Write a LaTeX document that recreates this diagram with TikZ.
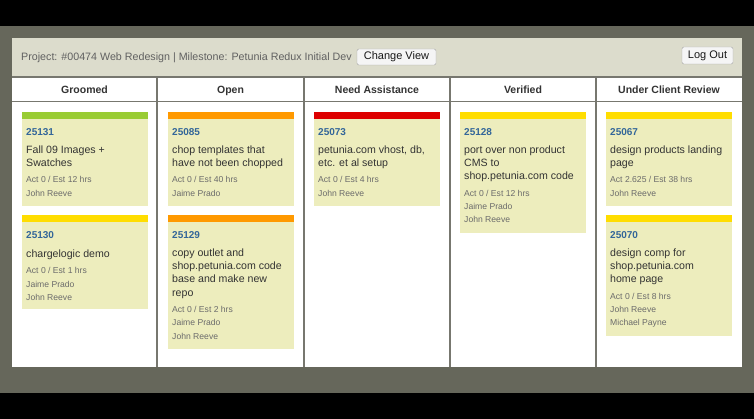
\documentclass[tikz,border=0pt]{standalone}
\usepackage{fontspec}
\setmainfont{Liberation Sans}
\usetikzlibrary{positioning}

\definecolor{pagegray}{HTML}{66675B}
\definecolor{barbg}{HTML}{DCDCCC}
\definecolor{cardbg}{HTML}{EDEDBD}
\definecolor{idblue}{HTML}{336699}
\definecolor{linegray}{HTML}{77776F}
\definecolor{tgreen}{HTML}{99CC33}
\definecolor{torange}{HTML}{FF9900}
\definecolor{tred}{HTML}{DD0000}
\definecolor{tyellow}{HTML}{FFDD00}

% name, x, top, bottom, bar colour, id, title, meta
\newcommand{\kancard}[8]{%
  \fill[cardbg] (#2,#3) rectangle (#2+126,#4);
  \fill[#5] (#2,#3) rectangle (#2+126,#3+7);
  \node[cardid] (#1id) at (#2+4,#3+23.4) {#6};
  \node[cardtitle] (#1t) at (#2+4,#3+33.2) {#7};
  \node[below=5.5pt of #1t.south west, cardmeta] (#1m) {#8};
}

\begin{document}
\begin{tikzpicture}[x=1pt,y=-1pt,
    cardid/.style={anchor=base west,inner sep=0pt,text=idblue,font=\fontsize{10}{12}\selectfont\bfseries},
    cardtitle/.style={anchor=north west,inner sep=0pt,align=left,text=black!80,
      font=\fontsize{10.6}{13.4}\selectfont,execute at begin node=\strut,execute at end node=\strut},
    cardmeta/.style={anchor=north west,inner sep=0pt,align=left,text=black!58,
      font=\fontsize{8.6}{13.4}\selectfont,execute at begin node=\strut,execute at end node=\strut},
    colhead/.style={anchor=base,font=\fontsize{10.5}{12}\selectfont\bfseries,text=black!80},
    btn/.style={draw=black!35,fill=black!4,rounded corners=1.5pt,inner sep=0pt,
      text height=7.8pt,text depth=2.2pt,font=\fontsize{11}{13}\selectfont,text=black!90}]
  \useasboundingbox (0,0) rectangle (754,419);
  \fill[black] (0,0) rectangle (754,419);
  \fill[pagegray] (0,26) rectangle (754,393);

  \fill[barbg] (12,38) rectangle (742,77);
  \fill[white] (12,77) rectangle (742,367);
  \node[anchor=base west,inner sep=0pt,text=black!62,font=\fontsize{10.7}{13}\selectfont] (project)
    at (21,60.8) {Project: \#00474 Web Redesign | Milestone: Petunia Redux Initial Dev};
  \node[btn,minimum width=79pt,minimum height=16pt] (changeview) at (396.5,57) {Change View};
  \node[btn,minimum width=51pt,minimum height=17pt] (logout) at (707.5,55.5) {Log Out};

  \draw[linegray,line width=1.5pt] (12,77) -- (742,77) (12,101.5) -- (742,101.5);
  \foreach \x in {157,304,450,596}
    \draw[linegray,line width=2pt] (\x,77) -- (\x,367);

  \node[colhead] (hgroomed) at (84.5,93.8) {Groomed};
  \node[colhead] (hopen) at (230.5,93.8) {Open};
  \node[colhead] (hneed) at (377,93.8) {Need Assistance};
  \node[colhead] (hverified) at (523,93.8) {Verified};
  \node[colhead] (hreview) at (669,93.8) {Under Client Review};

  \kancard{c25131}{22}{112}{206}{tgreen}{25131}{Fall 09 Images +\\Swatches}{Act 0 / Est 12 hrs\\John Reeve}
  \kancard{c25130}{22}{215}{309}{tyellow}{25130}{chargelogic demo}{Act 0 / Est 1 hrs\\Jaime Prado\\John Reeve}
  \kancard{c25085}{168}{112}{206}{torange}{25085}{chop templates that\\have not been chopped}{Act 0 / Est 40 hrs\\Jaime Prado}
  \kancard{c25129}{168}{215}{349}{torange}{25129}{copy outlet and\\shop.petunia.com code\\base and make new\\repo}{Act 0 / Est 2 hrs\\Jaime Prado\\John Reeve}
  \kancard{c25073}{314}{112}{206}{tred}{25073}{petunia.com vhost, db,\\etc. et al setup}{Act 0 / Est 4 hrs\\John Reeve}
  \kancard{c25128}{460}{112}{233}{tyellow}{25128}{port over non product\\CMS to\\shop.petunia.com code}{Act 0 / Est 12 hrs\\Jaime Prado\\John Reeve}
  \kancard{c25067}{606}{112}{206}{tyellow}{25067}{design products landing\\page}{Act 2.625 / Est 38 hrs\\John Reeve}
  \kancard{c25070}{606}{215}{336}{tyellow}{25070}{design comp for\\shop.petunia.com\\home page}{Act 0 / Est 8 hrs\\John Reeve\\Michael Payne}
\end{tikzpicture}
\end{document}
